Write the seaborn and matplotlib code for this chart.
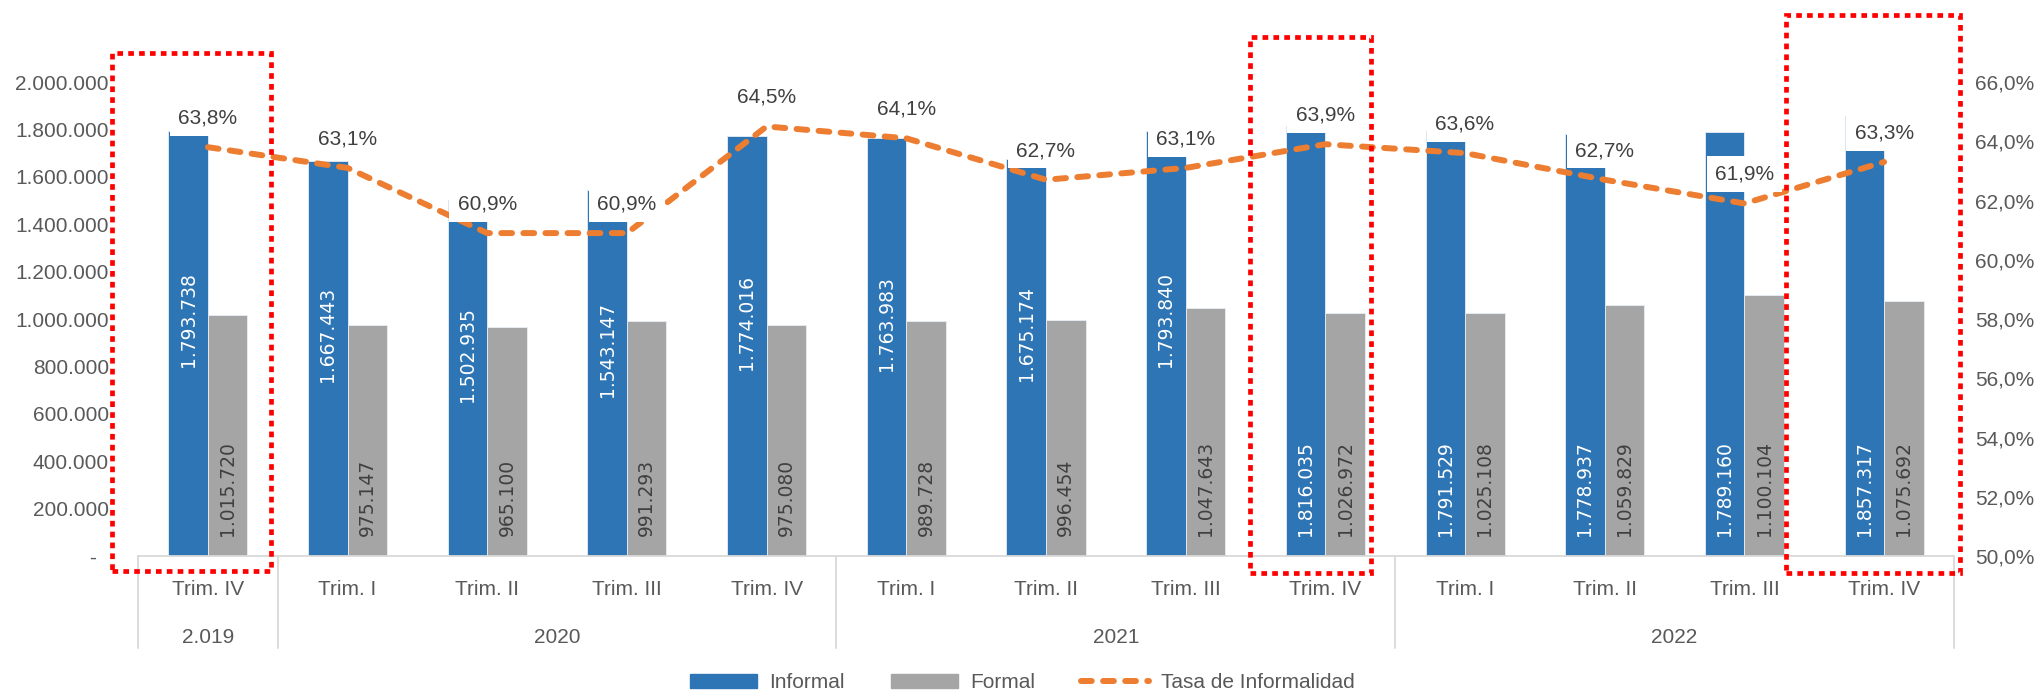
import numpy as np
import pandas as pd
import seaborn as sns
import matplotlib.pyplot as plt
import matplotlib.transforms as mtrans
from matplotlib.lines import Line2D
from matplotlib.patches import Patch, Rectangle
from matplotlib.ticker import FuncFormatter, MultipleLocator

# data
periods = ["2019-IV", "2020-I", "2020-II", "2020-III", "2020-IV",
           "2021-I", "2021-II", "2021-III", "2021-IV",
           "2022-I", "2022-II", "2022-III", "2022-IV"]
trim_labels = ["Trim. IV", "Trim. I", "Trim. II", "Trim. III", "Trim. IV",
               "Trim. I", "Trim. II", "Trim. III", "Trim. IV",
               "Trim. I", "Trim. II", "Trim. III", "Trim. IV"]
year_labels = ["2.019", "2020", "2021", "2022"]
year_first = [0, 1, 5, 9]
year_last = [0, 4, 8, 12]
informal = [1793738, 1667443, 1502935, 1543147, 1774016, 1763983, 1675174,
            1793840, 1816035, 1791529, 1778937, 1789160, 1857317]
formal = [1015720, 975147, 965100, 991293, 975080, 989728, 996454,
          1047643, 1026972, 1025108, 1059829, 1100104, 1075692]
tasa = [63.8, 63.1, 60.9, 60.9, 64.5, 64.1, 62.7, 63.1, 63.9, 63.6, 62.7, 61.9, 63.3]

# where the informal value label sits inside its bar
inf_label_mode = ["center"] * 8 + ["base"] * 5

blue = "#2E75B6"
gray = "#A5A5A5"
orange = "#ED7D31"
txt = "#595959"
dark = "#404040"


def miles(v):
    return f"{int(v):,}".replace(",", ".")


sns.set_theme(style="white")
plt.rcParams["font.family"] = ["Liberation Sans", "DejaVu Sans"]

fig = plt.figure(figsize=(20.36, 6.95), dpi=100)
ax = fig.add_subplot(111)
fig.subplots_adjust(left=0.0678, right=0.9597, bottom=0.2, top=0.882)

df = pd.DataFrame({
    "Periodo": periods * 2,
    "Serie": ["Informal"] * len(periods) + ["Formal"] * len(periods),
    "Ocupados": informal + formal,
})
sns.barplot(data=df, x="Periodo", y="Ocupados", hue="Serie",
            palette={"Informal": blue, "Formal": gray}, saturation=1,
            width=0.566, gap=0, errorbar=None, legend=False,
            edgecolor="#E8EEF6", linewidth=0.6, ax=ax)

ax.set_xlim(-0.5, len(periods) - 0.5)
ax.set_ylim(0, 2000000)
ax.yaxis.set_major_locator(MultipleLocator(200000))
ax.yaxis.set_major_formatter(FuncFormatter(lambda v, p: "-  " if v == 0 else miles(v)))
ax.set_xlabel("")
ax.set_ylabel("")
ax.set_xticks(range(len(periods)))
ax.set_xticklabels(trim_labels)
ax.tick_params(axis="x", length=0, pad=17.5, labelsize=15, labelcolor=txt)
ax.tick_params(axis="y", length=0, pad=21, labelsize=15, labelcolor=txt)
for s in ["top", "left", "right"]:
    ax.spines[s].set_visible(False)
ax.spines["bottom"].set_color("#D9D9D9")
ax.spines["bottom"].set_linewidth(1.3)

# value labels inside the bars
val_font = "DejaVu Sans"
inf_bars = ax.containers[0]
for_bars = ax.containers[1]
for i, p in enumerate(inf_bars.patches):
    xc = p.get_x() + p.get_width() / 2
    if inf_label_mode[i] == "center":
        ax.annotate(miles(informal[i]), (xc, informal[i] / 2), xytext=(0, 17),
                    textcoords="offset points", rotation=90, ha="center", va="center",
                    color="white", fontsize=13.5, family=val_font)
    else:
        ax.annotate(miles(informal[i]), (xc, 0), xytext=(0, 14.5),
                    textcoords="offset points", rotation=90, ha="center", va="bottom",
                    color="white", fontsize=13.5, family=val_font)
for i, p in enumerate(for_bars.patches):
    xc = p.get_x() + p.get_width() / 2
    ax.annotate(miles(formal[i]), (xc, 0), xytext=(0, 14.5),
                textcoords="offset points", rotation=90, ha="center", va="bottom",
                color=dark, fontsize=13.5, family=val_font)

# multi-level category axis: separators and year labels
blend = mtrans.blended_transform_factory(ax.transData, ax.transAxes)
for xs in [-0.5] + [b + 0.5 for b in year_last]:
    ax.add_line(Line2D([xs, xs], [0, -0.194], transform=blend, color="#D9D9D9",
                       lw=1.3, clip_on=False))
for lab, a, b in zip(year_labels, year_first, year_last):
    ax.text((a + b) / 2, -0.171, lab, transform=blend, ha="center", va="center",
            fontsize=15, color=txt)

# informality rate on the secondary axis
ax2 = ax.twinx()
rate_df = pd.DataFrame({"pos": np.arange(len(periods)), "tasa": tasa})
sns.lineplot(data=rate_df, x="pos", y="tasa", color=orange, lw=4.3,
             legend=False, ax=ax2)
rate_line = ax2.lines[0]
rate_line.set_linestyle((0, (1.8, 1.9)))
rate_line.set_dash_capstyle("round")
ax2.set_ylim(50, 66)
ax2.set_xlim(-0.5, len(periods) - 0.5)
ax2.yaxis.set_major_locator(MultipleLocator(2))
ax2.yaxis.set_major_formatter(FuncFormatter(lambda v, p: f"{v:.1f}%".replace(".", ",")))
ax2.set_xlabel("")
ax2.set_ylabel("")
ax2.tick_params(axis="y", length=0, pad=15, labelsize=15, labelcolor=txt)
for s in ax2.spines.values():
    s.set_visible(False)
ax2.grid(False)

for i, r in enumerate(tasa):
    ax2.annotate(f"{r:.1f}%".replace(".", ","), (i, r), xytext=(0, 21),
                 textcoords="offset points", ha="center", va="center",
                 fontsize=15, color=dark, zorder=6,
                 bbox=dict(boxstyle="square,pad=0.4", fc="white", ec="none"))

# red dotted highlight boxes (quarter, left, right, bottom, top)
highlights = [(0, -0.686, 0.452, -63000, 2122000),
              (8, -0.54, 0.33, -72000, 2190000),
              (12, -0.70, 0.54, -72000, 2283000)]
for idx, x0, x1, y0, y1 in highlights:
    rect = Rectangle((idx + x0, y0), x1 - x0, y1 - y0, transform=ax.transData,
                     fill=False, ec="#FF0000", lw=3.4, ls=(0, (1.2, 1.1)),
                     clip_on=False, zorder=10)
    ax2.add_artist(rect)

handles = [Patch(color=blue), Patch(color=gray),
           Line2D([], [], color=orange, lw=4.3, ls=(0, (1.8, 1.9)),
                  dash_capstyle="round")]
leg = fig.legend(handles, ["Informal", "Formal", "Tasa de Informalidad"],
                 loc="center", bbox_to_anchor=(0.502, 0.0173), ncol=3,
                 frameon=False, fontsize=15, handlelength=3.25,
                 handletextpad=0.57, columnspacing=2.2)
for t in leg.get_texts():
    t.set_color(txt)

fig.savefig("out.png", dpi=100)
